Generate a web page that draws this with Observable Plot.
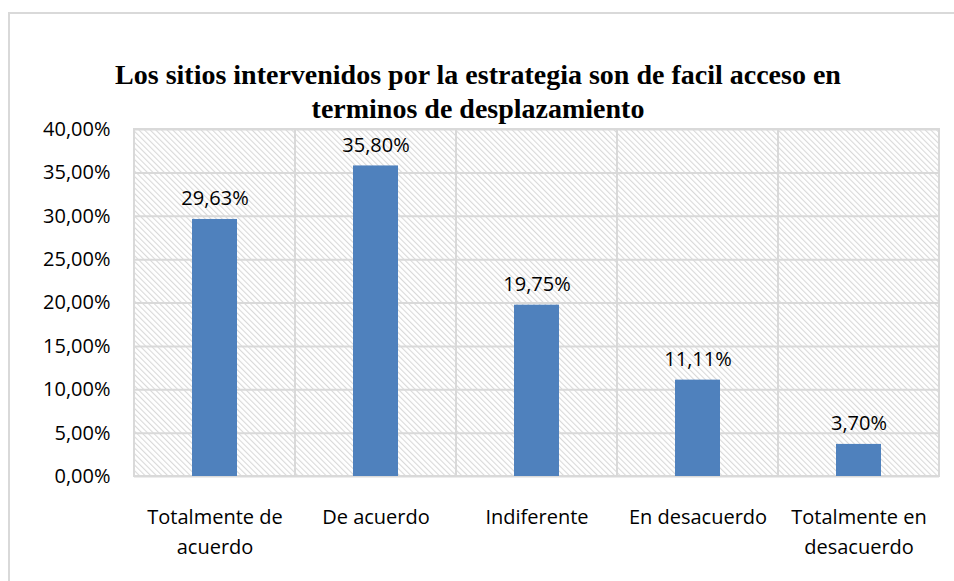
<!DOCTYPE html>
<html>
<head>
<meta charset="utf-8">
<script src="https://cdn.jsdelivr.net/npm/d3@7"></script>
<script src="https://cdn.jsdelivr.net/npm/@observablehq/plot@0.6"></script>
<style>
  body { margin: 0; background: #fff; width: 954px; height: 581px; overflow: hidden; position: relative; }
  #frame { position: absolute; left: 8px; top: 12px; width: 1000px; height: 700px;
           border-top: 2px solid #d9d9d9; border-left: 2px solid #d9d9d9; box-sizing: border-box; }
  #title { position: absolute; left: 0; top: 58px; width: 956px; text-align: center; z-index: 2;
           font-family: "Liberation Serif", serif; font-weight: bold; font-size: 28px; line-height: 34px; color: #000; }
  #chart { position: absolute; left: 0; top: 105px; z-index: 1; }
</style>
</head>
<body>
<div id="frame"></div>
<div id="title">Los sitios intervenidos por la estrategia son de facil acceso en<br>terminos de desplazamiento</div>
<div id="chart"></div>
<script>
const categories = ["Totalmente de acuerdo", "De acuerdo", "Indiferente", "En desacuerdo", "Totalmente en desacuerdo"];
const tickLabels = ["Totalmente de\nacuerdo", "De acuerdo", "Indiferente", "En desacuerdo", "Totalmente en\ndesacuerdo"];
const values = [29.63, 35.80, 19.75, 11.11, 3.70];
const yTicks = [0, 5, 10, 15, 20, 25, 30, 35, 40];

const data = categories.map((c, i) => ({category: c, value: values[i]}));
const fmt = v => v.toFixed(2).replace(".", ",") + "%";
const labelOf = new Map(categories.map((c, i) => [c, tickLabels[i]]));

const chart = Plot.plot({
  width: 954,
  height: 476,
  marginTop: 24,
  marginBottom: 105,
  marginLeft: 134,
  marginRight: 15,
  style: {fontFamily: "'Open Sans', sans-serif", fontSize: "20px", color: "#000", background: "transparent"},
  x: {domain: categories, padding: 0, label: null},
  y: {domain: [0, 40], label: null},
  marks: [
    Plot.barY(categories, {x: d => d, y1: 0, y2: 40, fill: "url(#hatch)", stroke: "#d9d9d9", strokeWidth: 2}),
    Plot.ruleY(yTicks, {stroke: "#d9d9d9", strokeWidth: 2}),
    Plot.barY(data, {x: "category", y: "value", fill: "#4f81bd", insetLeft: 58, insetRight: 58}),
    Plot.text(data, {x: "category", y: "value", text: d => fmt(d.value), dy: -14, lineAnchor: "bottom", fill: "#000", fontSize: 20}),
    Plot.axisY(yTicks, {tickSize: 0, tickPadding: 24, tickFormat: fmt, fontSize: 20, fill: "#000", label: null}),
    Plot.axisX({tickSize: 0, tickPadding: 26, tickFormat: c => labelOf.get(c), lineHeight: 1.5, fontSize: 20, fill: "#000", label: null})
  ]
});

const ns = "http://www.w3.org/2000/svg";
const defs = document.createElementNS(ns, "defs");
defs.innerHTML = '<pattern id="hatch" patternUnits="userSpaceOnUse" width="4" height="4" patternTransform="rotate(-45)">' +
  '<rect width="4" height="4" fill="#ffffff"/>' +
  '<line x1="0.5" y1="0" x2="0.5" y2="4" stroke="#d9d9d9" stroke-width="1.2"/></pattern>';
chart.insertBefore(defs, chart.firstChild);
document.getElementById("chart").appendChild(chart);
</script>
</body>
</html>
